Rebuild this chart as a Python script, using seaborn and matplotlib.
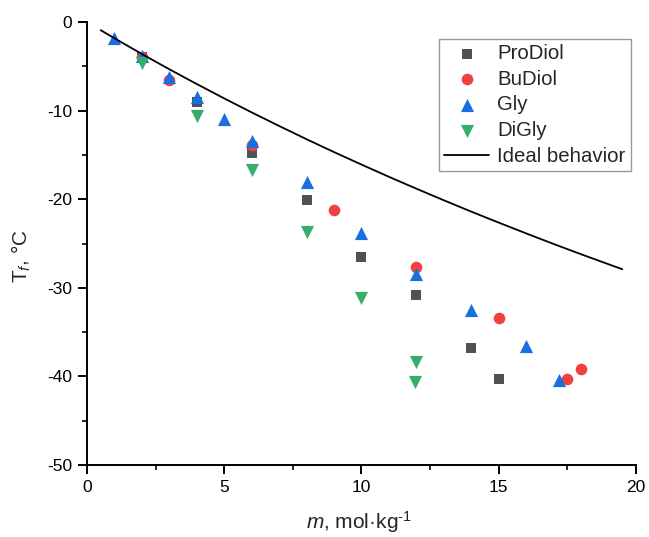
import matplotlib
matplotlib.use("Agg")
import matplotlib.pyplot as plt
import pandas as pd
import seaborn as sns
from matplotlib.ticker import MultipleLocator

# values
prodiol_m = [2, 4, 6, 8, 10, 12, 14, 15]
prodiol_t = [-3.9, -9.0, -14.8, -20.1, -26.5, -30.8, -36.8, -40.3]
budiol_m = [2, 3, 6, 9, 12, 15, 17.5, 18]
budiol_t = [-3.9, -6.6, -13.9, -21.2, -27.7, -33.4, -40.3, -39.2]
gly_m = [1, 2, 3, 4, 5, 6, 8, 10, 12, 14, 16, 17.2]
gly_t = [-1.8, -3.8, -6.2, -8.5, -11.0, -13.4, -18.1, -23.8, -28.4, -32.5, -36.6, -40.4]
digly_m = [2, 4, 6, 8, 10, 12, 11.95]
digly_t = [-4.6, -10.6, -16.7, -23.7, -31.1, -38.4, -40.6]

ideal_m = [0.5, 1, 2, 3, 4, 5, 6, 7, 8, 9, 10, 11, 12, 13, 14, 15, 16, 17, 18, 19, 19.5]
ideal_t = [-0.92, -1.83, -3.61, -5.33, -7.0, -8.62, -10.2, -11.73, -13.23, -14.68,
           -16.09, -17.47, -18.81, -20.12, -21.4, -22.64, -23.86, -25.05, -26.21,
           -27.34, -27.9]

series = ["ProDiol", "BuDiol", "Gly", "DiGly"]
colors = {"ProDiol": "#515151", "BuDiol": "#F14040", "Gly": "#1A6FDF", "DiGly": "#37AD6B"}
markers = {"ProDiol": "s", "BuDiol": "o", "Gly": "^", "DiGly": "v"}
sizes = {"ProDiol": 55, "BuDiol": 70, "Gly": 90, "DiGly": 90}

frame = pd.concat(
    [
        pd.DataFrame({"m": prodiol_m, "T": prodiol_t, "series": "ProDiol"}),
        pd.DataFrame({"m": budiol_m, "T": budiol_t, "series": "BuDiol"}),
        pd.DataFrame({"m": gly_m, "T": gly_t, "series": "Gly"}),
        pd.DataFrame({"m": digly_m, "T": digly_t, "series": "DiGly"}),
    ],
    ignore_index=True,
)
ideal = pd.DataFrame({"m": ideal_m, "T": ideal_t})

sns.set_theme(style="ticks")
plt.rcParams["font.family"] = ["Liberation Sans", "DejaVu Sans"]
plt.rcParams["mathtext.fontset"] = "custom"
plt.rcParams["mathtext.rm"] = "Liberation Sans"
plt.rcParams["mathtext.it"] = "Liberation Sans:italic"
plt.rcParams["axes.unicode_minus"] = False

fig = plt.figure(figsize=(6.49, 5.37), dpi=100)
ax = fig.add_axes([0.134, 0.134, 0.846, 0.825])

for name in series:
    sub = frame[frame["series"] == name]
    sns.scatterplot(
        data=sub, x="m", y="T", ax=ax, color=colors[name], marker=markers[name],
        s=sizes[name], linewidth=0, label=name, zorder=3,
    )
sns.lineplot(data=ideal, x="m", y="T", ax=ax, color="black", linewidth=1.3,
             label="Ideal behavior", zorder=4)

ax.set_xlim(0, 20)
ax.set_ylim(-50, 0)
ax.xaxis.set_major_locator(MultipleLocator(5))
ax.xaxis.set_minor_locator(MultipleLocator(2.5))
ax.yaxis.set_major_locator(MultipleLocator(10))
ax.yaxis.set_minor_locator(MultipleLocator(5))
ax.tick_params(which="major", direction="out", length=6.5, width=1.4, pad=4,
               labelsize=12.5, colors="black")
ax.tick_params(which="minor", direction="out", length=3.5, width=1.4)
for side in ["left", "bottom"]:
    ax.spines[side].set_linewidth(1.4)
    ax.spines[side].set_color("black")
sns.despine(ax=ax)

ax.set_xlabel(r"$m$, mol·kg$^{\text{-1}}$", fontsize=15, va="center")
ax.xaxis.set_label_coords(0.495, -0.129)
ax.set_ylabel(r"T$_\mathit{f}$, °C", fontsize=15, va="center")
ax.yaxis.set_label_coords(-0.12, 0.472)

handles, labels = ax.get_legend_handles_labels()
leg = ax.legend(handles, labels, loc="upper right", bbox_to_anchor=(0.99, 0.962),
                fontsize=14.7, frameon=True, fancybox=False, edgecolor="#808080",
                borderpad=0.25, labelspacing=0.33, handletextpad=0.4, handlelength=2.2,
                borderaxespad=0)
leg.get_frame().set_linewidth(1.0)

fig.savefig("out.png", dpi=100)
